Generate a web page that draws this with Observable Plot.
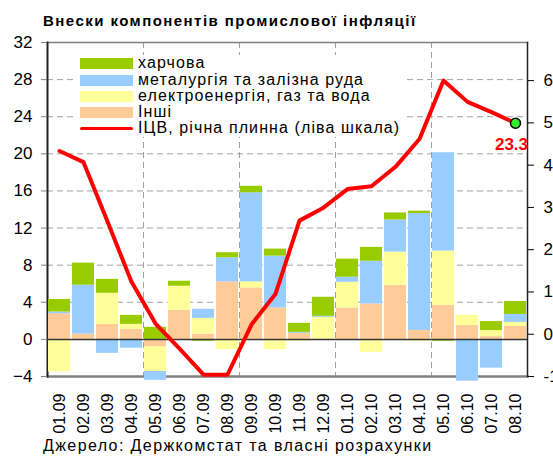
<!DOCTYPE html>
<html>
<head>
<meta charset="utf-8">
<script src="https://cdn.jsdelivr.net/npm/d3@7"></script>
<script src="https://cdn.jsdelivr.net/npm/@observablehq/plot@0.6"></script>
<style>
  body { margin: 0; background: #fff; font-family: "Liberation Sans", Arial, sans-serif; }
  #wrap { position: relative; width: 553px; height: 456px; overflow: hidden; background: #fff; }
  #title { position: absolute; left: 43px; top: 12px; font-weight: bold; font-size: 15px; letter-spacing: 1.45px; white-space: nowrap; color: #000; }
  #chart { position: absolute; left: 0; top: 30px; }
  #legend { position: absolute; left: 75px; top: 55px; width: 332px; height: 82px; background: #fff; }
  .lrow { position: absolute; left: 0; height: 16px; width: 332px; }
  .sw { position: absolute; left: 5px; top: 2px; width: 53px; height: 11px; }
  .sw.line { top: 6px; height: 3px; border-radius: 2px; }
  .lt { position: absolute; left: 63px; top: -2px; font-size: 16px; line-height: 18px; white-space: nowrap; letter-spacing: 1.1px; color: #000; }
  #caption { position: absolute; left: 43px; top: 437px; font-size: 16px; line-height: 18px; white-space: nowrap; letter-spacing: 1.4px; color: #000; }
</style>
</head>
<body>
<div id="wrap">
  <div id="title">Внески компонентів промислової інфляції</div>
  <div id="chart"></div>
  <div id="legend"></div>
  <div id="caption">Джерело: Держкомстат та власні розрахунки</div>
</div>
<script>
// ---- data ----
const months = ["01.09","02.09","03.09","04.09","05.09","06.09","07.09","08.09","09.09","10.09","11.09","12.09",
                "01.10","02.10","03.10","04.10","05.10","06.10","07.10","08.10"];
// contributions (stacked, left scale units)
const other  = [2.77, 0.57, 1.62, 1.08, -0.82, 3.14, 0.57, 6.2, 5.55, 3.39, 0.65, 0, 3.39, 3.82, 5.84, 0.97, 3.67, 1.51, 0.3, 1.4];
const energy = [-3.5, 0, 3.35, 0.54, -2.64, 2.59, 1.7, -1.1, 0.65, -1.1, -0.2, 2.38, 2.77, -1.4, 3.57, -0.2, 5.85, 1.08, 0.65, 0.43];
const metal  = [0.18, 5.27, -1.5, -0.95, -0.95, 0, 0.97, 2.6, 9.6, 5.58, 0.11, 0.11, 0.54, 4.6, 3.46, 12.6, 10.6, -4.5, -3.1, 0.86];
const food   = [1.35, 2.38, 1.5, 0.97, 1.3, 0.54, -0.2, 0.54, 0.7, 0.76, 0.97, 2.05, 1.95, 1.5, 0.76, 0.25, -0.2, 0, 0.97, 1.4];
// producer price index, y/y (left scale)
const icv = [20.3, 19.1, 12.7, 6.2, 1.7, -1.0, -3.8, -3.8, 1.6, 4.9, 12.8, 14.2, 16.2, 16.5, 18.6, 21.6, 27.9, 25.6, 24.5, 23.3];

const seriesNames  = ["Інші", "електроенергія, газ та вода", "металургія та залізна руда", "харчова"];
const seriesColors = ["#ffcc99", "#ffff99", "#99ccff", "#99cc00"];
const lineName = "ІЦВ, річна плинна (ліва шкала)";
const legendOrder = ["харчова", "металургія та залізна руда", "електроенергія, газ та вода", "Інші"];

const leftTicks  = [-4, 0, 4, 8, 12, 16, 20, 24, 28, 32];
const gridTicks  = [4, 8, 12, 16, 20, 24, 28];
const rightTicks = [-1, 0, 1, 2, 3, 4, 5, 6];
const quarterStarts = ["05.09", "09.09", "01.10", "05.10"];
const lastLabel = "23.3";

// right axis (secondary) expressed on the left scale
const rightToLeft = r => -4 + (r + 1) * 4.556;
const leftToRight = l => Math.round((l + 4) / 4.556 - 1);

// ---- tables ----
const seriesValues = [other, energy, metal, food];
const barRows = [];
months.forEach((m, i) => {
  seriesNames.forEach((s, k) => barRows.push({month: m, series: s, value: seriesValues[k][i]}));
});
const lineRows = months.map((m, i) => ({month: m, icv: icv[i]}));
const last = lineRows[lineRows.length - 1];

const font = '"Liberation Sans", Arial, sans-serif';

const chart = Plot.plot({
  width: 553,
  height: 408,
  marginLeft: 47,
  marginRight: 26,
  marginTop: 12,
  marginBottom: 62,
  style: {fontFamily: font, fontSize: "17px", background: "#fff", color: "#000"},
  x: {domain: months, paddingInner: 0.1, paddingOuter: 0.05, axis: null},
  y: {domain: [-4, 32], axis: null},
  color: {domain: seriesNames, range: seriesColors},
  marks: [
    Plot.ruleY(gridTicks, {stroke: "#a0a0a0", strokeWidth: 1, strokeDasharray: "6,4"}),
    Plot.ruleX(quarterStarts, {x: d => d, dx: -12, stroke: "#a0a0a0", strokeWidth: 1, strokeDasharray: "6,4"}),
    Plot.frame({anchor: "top", stroke: "#808080", strokeWidth: 1.5}),
    Plot.frame({anchor: "bottom", stroke: "#808080", strokeWidth: 2.5}),
    Plot.frame({anchor: "left", stroke: "#222", strokeWidth: 2}),
    Plot.frame({anchor: "right", stroke: "#222", strokeWidth: 1.5}),
    Plot.barY(barRows, {x: "month", y: "value", fill: "series"}),
    Plot.ruleY([0], {stroke: "#333", strokeWidth: 1.5}),
    Plot.line(lineRows, {x: "month", y: "icv", stroke: "#ff0000", strokeWidth: 4, strokeLinejoin: "round"}),
    Plot.dot([last], {x: "month", y: "icv", r: 5, fill: "#33ee33", stroke: "#000", strokeWidth: 1.5}),
    Plot.text([last], {x: "month", y: "icv", text: () => lastLabel, dx: -4, dy: 21, fill: "#ff0000",
                       fontWeight: "bold", fontSize: 17}),
    Plot.axisY(leftTicks, {anchor: "left", tickSize: 6, tickPadding: 9, stroke: "#808080", fill: "#000", fontSize: 17}),
    Plot.axisY(rightTicks.map(rightToLeft), {anchor: "right", tickSize: 6, tickPadding: 10, stroke: "#000", fill: "#000",
                       fontSize: 17, tickFormat: d => leftToRight(d)}),
    Plot.text(months, {x: d => d, text: d => d, frameAnchor: "bottom", rotate: -90, textAnchor: "end",
                       lineAnchor: "middle", dy: 17, fontSize: 16, fill: "#000"})
  ]
});
document.getElementById("chart").appendChild(chart);

// ---- legend (HTML overlay, inside plot area) ----
const legend = document.getElementById("legend");
const rowTops = [1, 17.5, 34, 50, 66];
legendOrder.forEach((name, j) => {
  const row = document.createElement("div");
  row.className = "lrow";
  row.style.top = rowTops[j] + "px";
  const sw = document.createElement("div");
  sw.className = "sw";
  sw.style.background = seriesColors[seriesNames.indexOf(name)];
  const t = document.createElement("div");
  t.className = "lt";
  t.textContent = name;
  row.appendChild(sw); row.appendChild(t);
  legend.appendChild(row);
});
{
  const row = document.createElement("div");
  row.className = "lrow";
  row.style.top = rowTops[4] + "px";
  const sw = document.createElement("div");
  sw.className = "sw line";
  sw.style.background = "#ff0000";
  const t = document.createElement("div");
  t.className = "lt";
  t.textContent = lineName;
  row.appendChild(sw); row.appendChild(t);
  legend.appendChild(row);
}
</script>
</body>
</html>
